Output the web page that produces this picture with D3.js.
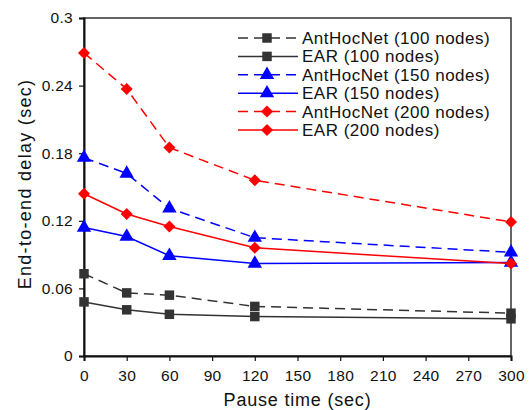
<!DOCTYPE html>
<html>
<head>
<meta charset="utf-8">
<script src="https://cdn.jsdelivr.net/npm/d3@7.9.0/dist/d3.min.js"></script>
<style>
  body { margin: 0; background: #fff; }
  text { font-family: "Liberation Sans", Arial, sans-serif; fill: #111; }
</style>
</head>
<body>
<svg id="chart" width="529" height="410"></svg>
<script>
const pauseTimes = [0, 30, 60, 120, 300];
const xTicks = [0, 30, 60, 90, 120, 150, 180, 210, 240, 270, 300];
const yTicks = [0, 0.06, 0.12, 0.18, 0.24, 0.3];

const antHoc100 = [0.073, 0.056, 0.054, 0.044, 0.038];
const ear100    = [0.048, 0.041, 0.037, 0.035, 0.033];
const antHoc150 = [0.176, 0.162, 0.131, 0.105, 0.092];
const ear150    = [0.114, 0.106, 0.089, 0.082, 0.083];
const antHoc200 = [0.269, 0.237, 0.185, 0.156, 0.119];
const ear200    = [0.144, 0.126, 0.115, 0.096, 0.082];

const series = [
  { name: "AntHocNet (100 nodes)", values: antHoc100, color: "#333333", dashed: true,  marker: "square" },
  { name: "EAR (100 nodes)",       values: ear100,    color: "#333333", dashed: false, marker: "square" },
  { name: "AntHocNet (150 nodes)", values: antHoc150, color: "#0000ff", dashed: true,  marker: "triangle" },
  { name: "EAR (150 nodes)",       values: ear150,    color: "#0000ff", dashed: false, marker: "triangle" },
  { name: "AntHocNet (200 nodes)", values: antHoc200, color: "#ff0000", dashed: true,  marker: "diamond" },
  { name: "EAR (200 nodes)",       values: ear200,    color: "#ff0000", dashed: false, marker: "diamond" }
];

const svg = d3.select("#chart"),
      margin = { top: 18, right: 18, bottom: 54, left: 84 },
      innerWidth = 529 - margin.left - margin.right,
      innerHeight = 410 - margin.top - margin.bottom;

const chart = svg.append("g")
    .attr("transform", `translate(${margin.left},${margin.top})`);

const xScale = d3.scaleLinear().domain([0, 300]).range([0, innerWidth]);
const yScale = d3.scaleLinear().domain([0, 0.3]).range([innerHeight, 0]);

// frame
chart.append("rect")
    .attr("width", innerWidth)
    .attr("height", innerHeight)
    .attr("fill", "none")
    .attr("stroke", "#333")
    .attr("stroke-width", 1.5);

const xAxis = chart.append("g")
    .attr("transform", `translate(0,${innerHeight})`)
    .call(d3.axisBottom(xScale).tickValues(xTicks).tickSize(5).tickPadding(9).tickFormat(d3.format("d")));
const yAxis = chart.append("g")
    .call(d3.axisLeft(yScale).tickValues(yTicks).tickSize(5).tickPadding(6).tickFormat(d => d === 0 ? "0" : String(+d.toFixed(2))));

[xAxis, yAxis].forEach(ax => {
  ax.select(".domain").attr("stroke", "#111").attr("stroke-width", 2);
  ax.selectAll(".tick line").attr("stroke", "#111").attr("stroke-width", 1.2);
  ax.selectAll(".tick text")
    .style("font-family", "'Liberation Sans', Arial, sans-serif")
    .style("font-size", "15.5px")
    .style("letter-spacing", "0.3px")
    .attr("fill", "#111");
});

chart.append("text")
    .attr("x", innerWidth / 2)
    .attr("y", innerHeight + 50)
    .attr("text-anchor", "middle")
    .style("font-size", "18px")
    .style("letter-spacing", "0.8px")
    .text("Pause time (sec)");

chart.append("text")
    .attr("transform", "rotate(-90)")
    .attr("x", -innerHeight / 2 + 3)
    .attr("y", -53)
    .attr("text-anchor", "middle")
    .style("font-size", "18px")
    .style("letter-spacing", "1.3px")
    .text("End-to-end delay (sec)");

const diamond = {
  draw(ctx, size) {
    const r = Math.sqrt(size / 2);
    ctx.moveTo(0, -r);
    ctx.lineTo(r, 0);
    ctx.lineTo(0, r);
    ctx.lineTo(-r, 0);
    ctx.closePath();
  }
};

const symbols = {
  square: d3.symbol().type(d3.symbolSquare).size(90),
  triangle: d3.symbol().type(d3.symbolTriangle).size(90),
  diamond: d3.symbol().type(diamond).size(72)
};

const line = d3.line()
    .x((d, i) => xScale(pauseTimes[i]))
    .y(d => yScale(d));

series.forEach(s => {
  chart.append("path")
      .datum(s.values)
      .attr("fill", "none")
      .attr("stroke", s.color)
      .attr("stroke-width", 1.5)
      .attr("stroke-dasharray", s.dashed ? "10,6" : null)
      .attr("d", line);

  chart.selectAll(null)
      .data(s.values)
      .enter()
      .append("path")
      .attr("transform", (d, i) => `translate(${xScale(pauseTimes[i])},${yScale(d)})`)
      .attr("d", symbols[s.marker])
      .attr("fill", s.color);
});

// legend
const legend = svg.append("g").attr("transform", "translate(238,38)");
const rowH = 18.4;
series.forEach((s, i) => {
  const g = legend.append("g").attr("transform", `translate(0,${i * rowH})`);
  g.append("line")
      .attr("x1", 0).attr("x2", 60)
      .attr("y1", 0).attr("y2", 0)
      .attr("stroke", s.color)
      .attr("stroke-width", 1.5)
      .attr("stroke-dasharray", s.dashed ? "10,6" : null);
  g.append("path")
      .attr("transform", "translate(29,0)")
      .attr("d", symbols[s.marker])
      .attr("fill", s.color);
  g.append("text")
      .attr("x", 64)
      .attr("y", 0)
      .attr("dy", "0.35em")
      .style("font-size", "17px")
      .style("letter-spacing", "0.5px")
      .text(s.name);
});
</script>
</body>
</html>
